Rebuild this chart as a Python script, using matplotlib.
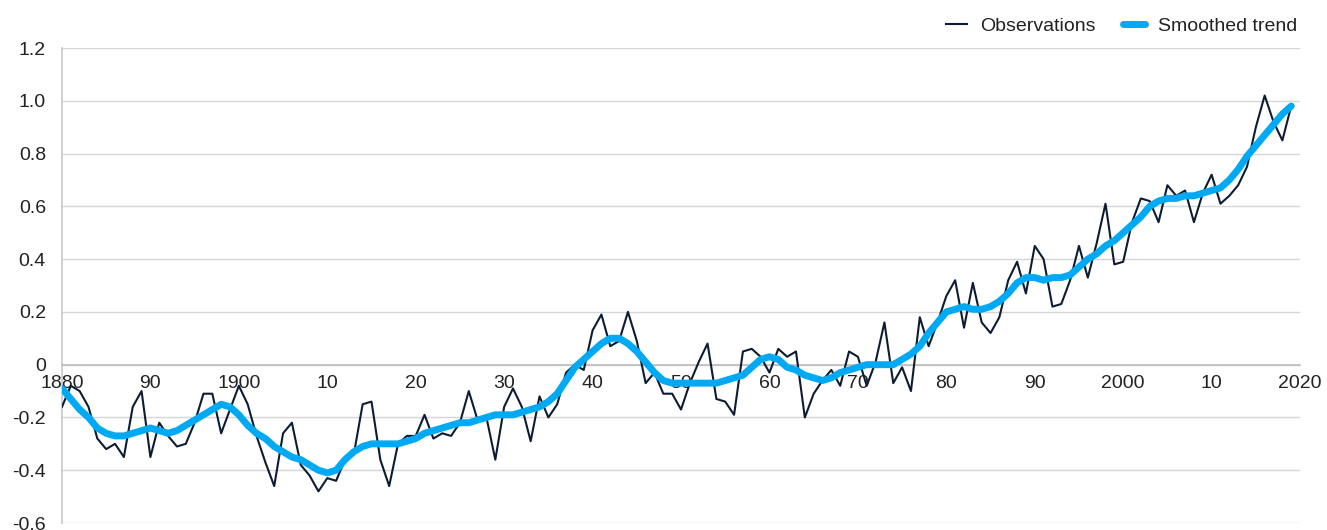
import numpy as np
import matplotlib.pyplot as plt

plt.rcParams['font.family'] = ['Liberation Sans', 'DejaVu Sans']

# Annual temperature anomaly, 1880-2019
years = np.arange(1880, 2020)
observations = [
    -0.16, -0.08, -0.10, -0.16, -0.28, -0.32, -0.30, -0.35, -0.16, -0.10,
    -0.35, -0.22, -0.27, -0.31, -0.30, -0.22, -0.11, -0.11, -0.26, -0.17,
    -0.08, -0.15, -0.27, -0.37, -0.46, -0.26, -0.22, -0.38, -0.42, -0.48,
    -0.43, -0.44, -0.36, -0.34, -0.15, -0.14, -0.36, -0.46, -0.30, -0.27,
    -0.27, -0.19, -0.28, -0.26, -0.27, -0.22, -0.10, -0.21, -0.20, -0.36,
    -0.16, -0.09, -0.16, -0.29, -0.12, -0.20, -0.15, -0.03, -0.00, -0.02,
    0.13, 0.19, 0.07, 0.09, 0.20, 0.09, -0.07, -0.03, -0.11, -0.11,
    -0.17, -0.07, 0.01, 0.08, -0.13, -0.14, -0.19, 0.05, 0.06, 0.03,
    -0.03, 0.06, 0.03, 0.05, -0.20, -0.11, -0.06, -0.02, -0.08, 0.05,
    0.03, -0.08, 0.01, 0.16, -0.07, -0.01, -0.10, 0.18, 0.07, 0.16,
    0.26, 0.32, 0.14, 0.31, 0.16, 0.12, 0.18, 0.32, 0.39, 0.27,
    0.45, 0.40, 0.22, 0.23, 0.32, 0.45, 0.33, 0.46, 0.61, 0.38,
    0.39, 0.54, 0.63, 0.62, 0.54, 0.68, 0.64, 0.66, 0.54, 0.65,
    0.72, 0.61, 0.64, 0.68, 0.75, 0.90, 1.02, 0.92, 0.85, 0.98,
]
smoothed = [
    -0.09, -0.13, -0.17, -0.20, -0.24, -0.26, -0.27, -0.27, -0.26, -0.25,
    -0.24, -0.25, -0.26, -0.25, -0.23, -0.21, -0.19, -0.17, -0.15, -0.16,
    -0.19, -0.23, -0.26, -0.28, -0.31, -0.33, -0.35, -0.36, -0.38, -0.40,
    -0.41, -0.40, -0.36, -0.33, -0.31, -0.30, -0.30, -0.30, -0.30, -0.29,
    -0.28, -0.26, -0.25, -0.24, -0.23, -0.22, -0.22, -0.21, -0.20, -0.19,
    -0.19, -0.19, -0.18, -0.17, -0.16, -0.14, -0.11, -0.06, -0.01, 0.02,
    0.05, 0.08, 0.10, 0.10, 0.08, 0.05, 0.01, -0.03, -0.06, -0.07,
    -0.07, -0.07, -0.07, -0.07, -0.07, -0.06, -0.05, -0.04, -0.01, 0.02,
    0.03, 0.02, -0.01, -0.02, -0.04, -0.05, -0.06, -0.05, -0.03, -0.02,
    -0.01, 0.00, 0.00, 0.00, 0.00, 0.02, 0.04, 0.07, 0.12, 0.16,
    0.20, 0.21, 0.22, 0.21, 0.21, 0.22, 0.24, 0.27, 0.31, 0.33,
    0.33, 0.32, 0.33, 0.33, 0.34, 0.37, 0.40, 0.42, 0.45, 0.47,
    0.50, 0.53, 0.56, 0.60, 0.62, 0.63, 0.63, 0.64, 0.64, 0.65,
    0.66, 0.67, 0.70, 0.74, 0.79, 0.83, 0.87, 0.91, 0.95, 0.98,
]

xtick_pos = np.arange(1880, 2021, 10)
xtick_labels = ['1880', '90', '1900', '10', '20', '30', '40', '50',
                '60', '70', '80', '90', '2000', '10', '2020']
ytick_pos = np.arange(-0.6, 1.21, 0.2)
ytick_labels = ['-0.6', '-0.4', '-0.2', '0', '0.2', '0.4', '0.6', '0.8', '1.0', '1.2']

fig = plt.figure(figsize=(13.27, 5.30), dpi=100)
ax = fig.add_axes([0.0467, 0.0132, 0.933, 0.8962])

ax.plot(years, observations, color='#0c1d33', lw=1.5, label='Observations', zorder=3)
ax.plot(years, smoothed, color='#00a9f4', lw=5, solid_capstyle='round',
        label='Smoothed trend', zorder=4)

ax.set_xlim(1880, 2020)
ax.set_ylim(-0.6, 1.2)

ax.set_yticks(ytick_pos)
ax.set_yticklabels(ytick_labels)
ax.set_xticks(xtick_pos)
ax.set_xticklabels(xtick_labels)

ax.grid(axis='y', color='#d6d6d6', lw=1)
ax.set_axisbelow(True)
for s in ['top', 'right']:
    ax.spines[s].set_visible(False)
ax.spines['left'].set_color('#c8c8c8')
ax.spines['left'].set_linewidth(1.2)
ax.spines['bottom'].set_position(('data', 0))
ax.spines['bottom'].set_color('#bdbdbd')
ax.spines['bottom'].set_linewidth(1.2)

ax.tick_params(axis='both', length=0, labelsize=14, colors='#222222')
ax.tick_params(axis='y', pad=11.5)
ax.tick_params(axis='x', pad=7.5)

fig.legend(loc='upper right', bbox_to_anchor=(0.991, 1.0), ncol=2, frameon=False,
           fontsize=14, handlelength=1.1, handletextpad=0.7, columnspacing=1.4,
           labelcolor='#222222')

fig.savefig('out.png', dpi=100)
